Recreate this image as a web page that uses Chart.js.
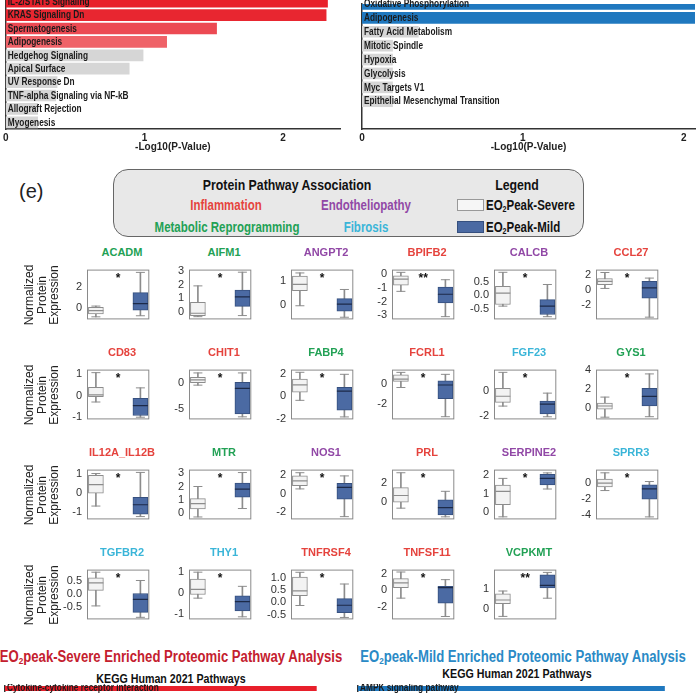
<!DOCTYPE html>
<html>
<head>
<meta charset="utf-8">
<script src="https://cdn.jsdelivr.net/npm/chart.js@4.4.1/dist/chart.umd.min.js"></script>
<style>
  body { margin: 0; width: 700px; height: 700px; overflow: hidden; position: relative; background: #fff;
         font-family: "Liberation Sans", Arial, sans-serif; color: #222; }
  canvas { position: absolute; }
  .c { position: absolute; white-space: nowrap; font-weight: bold; transform: translate(-50%, -50%) scaleX(.82); }
  .l { position: absolute; white-space: nowrap; font-weight: bold; transform-origin: 0 50%; transform: translateY(-50%) scaleX(.82); }
  .gt { position: absolute; white-space: nowrap; font-weight: bold; font-size: 11px; transform: translate(-50%, -50%); }
  .ylab { position: absolute; width: 80px; text-align: center; font-size: 12px; line-height: 12.5px;
          transform: translate(-50%, -50%) rotate(-90deg); }
  sub { font-size: 62%; vertical-align: -2px; line-height: 0; }
  #legendBox { position: absolute; left: 113px; top: 169px; width: 471px; height: 68px; background: #e8e8e8;
               border: 1px solid #666; border-radius: 15px; box-sizing: border-box; }
  .sw { position: absolute; width: 27px; height: 12px; box-sizing: border-box; }
</style>
</head>
<body>

<div style="position:absolute;left:19px;top:180px;font-size:20px;">(e)</div>

<div id="legendBox"></div>
<div class="c" style="left:287px;top:184px;font-size:15px;color:#111">Protein Pathway Association</div>
<div class="c" style="left:517px;top:184px;font-size:15px;color:#111">Legend</div>
<div class="sw" style="left:457px;top:199px;background:#f6f6f6;border:1px solid #999"></div>
<div class="sw" style="left:457px;top:221px;background:#4b6aa3;border:1px solid #36507f"></div>
<div class="l" style="left:486px;top:205px;font-size:14px;color:#111">EO<sub>2</sub>Peak-Severe</div>
<div class="l" style="left:486px;top:227px;font-size:14px;color:#111">EO<sub>2</sub>Peak-Mild</div>

<div class="c" style="left:171px;top:657px;font-size:16px;color:#c4202e">EO<sub>2</sub>peak-Severe Enriched Proteomic Pathway Analysis</div>
<div class="c" style="left:523px;top:657px;font-size:16px;color:#2a8ac6">EO<sub>2</sub>peak-Mild Enriched Proteomic Pathway Analysis</div>
<div class="c" style="left:171px;top:678px;font-size:13px;color:#111">KEGG Human 2021 Pathways</div>
<div class="c" style="left:517px;top:673px;font-size:13px;color:#111">KEGG Human 2021 Pathways</div>

<script>
Chart.defaults.font.family = '"Liberation Sans", Arial, sans-serif';
Chart.defaults.color = "#333";

// ─── Data ─────────────────────────────────────────────────────

// MSigDB Hallmark enrichment (top panels, -log10 p)
const severeHallmark = ["IL-2/STAT5 Signaling", "KRAS Signaling Dn", "Spermatogenesis", "Adipogenesis",
  "Hedgehog Signaling", "Apical Surface", "UV Response Dn", "TNF-alpha Signaling via NF-kB",
  "Allograft Rejection", "Myogenesis"];
const severeHallmarkP = [2.32, 2.31, 1.52, 1.16, 0.99, 0.89, 0.37, 0.36, 0.23, 0.23];

const mildHallmark = ["Oxidative Phosphorylation", "Adipogenesis", "Fatty Acid Metabolism", "Mitotic Spindle",
  "Hypoxia", "Glycolysis", "Myc Targets V1", "Epithelial Mesenchymal Transition", "", ""];
const mildHallmarkP = [2.1, 2.1, 0.35, 0.19, 0.19, 0.19, 0.19, 0.19, null, null];

const pValueTicks = [0, 1, 2];

// KEGG (bottom panels, first row only visible)
const severeKegg = ["Cytokine-cytokine receptor interaction", ""];
const severeKeggP = [2.24, null];
const mildKegg = ["AMPK signaling pathway", ""];
const mildKeggP = [1.91, null];

// Protein pathway groups
const pathways = ["Inflammation", "Endotheliopathy", "Metabolic Reprogramming", "Fibrosis"];
const pathwayColors = ["#e5433d", "#9148a6", "#22a155", "#3ab5d8"];

// Box plots: [min, q1, median, q3, max]
const proteins = ["ACADM", "AIFM1", "ANGPT2", "BPIFB2", "CALCB", "CCL27",
  "CD83", "CHIT1", "FABP4", "FCRL1", "FGF23", "GYS1",
  "IL12A_IL12B", "MTR", "NOS1", "PRL", "SERPINE2", "SPRR3",
  "TGFBR2", "THY1", "TNFRSF4", "TNFSF11", "VCPKMT"];
const proteinPathway = [2, 2, 1, 0, 1, 0,
  0, 0, 2, 0, 3, 2,
  0, 2, 1, 0, 1, 3,
  3, 3, 0, 0, 2];
const significance = ["*", "*", "*", "**", "*", "*",
  "*", "*", "*", "*", "*", "*",
  "*", "*", "*", "*", "*", "*",
  "*", "*", "*", "*", "**"];
const severeStats = [
  [-0.78, -0.5, -0.2, 0.1, 0.22], [-0.35, -0.28, -0.1, 0.7, 1.9], [-0.02, 0.61, 0.87, 1.22, 1.35],
  [-1.25, -0.79, -0.36, -0.12, 0.14], [-0.41, -0.35, 0.07, 0.32, 0.84], [0.16, 0.66, 1.1, 1.5, 2.3],
  [-0.3, -0.06, 0.03, 0.37, 1.05], [-0.33, 0.14, 0.7, 1.2, 2.05], [-0.37, 0.35, 1.0, 1.52, 2.13],
  [-0.37, 0.25, 0.47, 0.91, 1.16], [-1.18, -0.88, -0.39, 0.25, 1.53], [-0.92, -0.07, 0.25, 0.55, 1.18],
  [-0.69, -0.01, 0.45, 0.95, 1.04], [-0.27, 0.33, 0.73, 1.1, 2.0], [0.53, 0.88, 1.41, 1.95, 2.3],
  [-0.69, -0.05, 0.64, 1.46, 3.03], [-0.27, 0.4, 1.12, 1.47, 1.83], [-1.0, -0.55, -0.09, 0.42, 1.2],
  [-0.46, 0.14, 0.43, 0.62, 0.84], [-0.24, -0.07, 0.17, 0.65, 0.97], [-0.13, 0.27, 0.47, 1.03, 1.23],
  [-0.97, 0.29, 0.88, 1.38, 2.18], [-0.37, 0.27, 0.45, 0.76, 0.9]];
const mildStats = [
  [-0.68, -0.16, 0.45, 1.48, 3.36], [-0.27, 0.4, 1.1, 1.6, 2.9], [-0.5, -0.25, 0.05, 0.28, 0.66],
  [-3.1, -2.09, -1.46, -0.93, -0.4], [-0.8, -0.72, -0.41, -0.17, 0.39], [-3.7, -1.15, 0.23, 1.1, 1.55],
  [-1.0, -0.92, -0.47, -0.13, 0.35], [-6.5, -5.95, -0.95, 0.24, 2.05], [-1.85, -1.25, 0.45, 0.8, 1.95],
  [-3.33, -1.5, -0.12, 0.3, 0.96], [-2.04, -1.8, -1.02, -0.78, -0.14], [-0.87, 0.25, 1.25, 2.1, 3.6],
  [-1.25, -1.12, -0.62, -0.23, 1.1], [0.36, 1.2, 1.8, 2.26, 3.04], [-2.5, -0.59, 0.7, 1.15, 1.95],
  [-1.6, -1.41, -0.64, 0.18, 1.08], [1.25, 1.47, 1.83, 2.05, 2.13], [-4.27, -2.06, -0.79, -0.3, 0.12],
  [-0.9, -0.71, -0.21, 0.02, 0.52], [-1.11, -0.83, -0.4, -0.13, 0.31], [-0.62, -0.42, -0.12, 0.15, 0.75],
  [-3.18, -1.56, 0.3, 0.45, 1.26], [0.54, 1.06, 1.18, 1.71, 1.83]];
// y axis extent [min, max] and tick labels per protein
const yRanges = [
  [-1.02, 3.62], [-0.55, 3.09], [-0.59, 1.49], [-3.3, 0.34], [-0.9, 0.94], [-4.0, 2.69],
  [-1.1, 1.19], [-7.0, 2.7], [-2.07, 2.37], [-3.6, 1.44], [-2.25, 1.75], [-1.15, 4.05],
  [-1.4, 1.25], [-0.45, 3.26], [-2.8, 2.64], [-1.87, 3.36], [-0.41, 2.31], [-4.58, 1.6],
  [-0.98, 0.94], [-1.23, 1.09], [-0.7, 1.34], [-3.53, 2.47], [-0.52, 1.97]];
const yTicks = [
  [0, 2], [0, 1, 2, 3], [0, 1], [-3, -2, -1, 0], [-0.5, 0, 0.5], [-2, 0, 2],
  [-1, 0, 1], [-5, 0], [-2, 0, 2], [-2, 0], [-2, 0], [0, 2, 4],
  [-1, 0, 1], [0, 1, 2, 3], [-2, 0, 2], [0, 2], [0, 1, 2], [-4, -2, 0],
  [-0.5, 0, 0.5], [-1, 0, 1], [-0.5, 0, 0.5, 1], [-2, 0, 2], [0, 1]];

// ─── Helpers ──────────────────────────────────────────────────

function addCanvas(left, top, w, h) {
  const c = document.createElement("canvas");
  c.width = w; c.height = h;
  c.style.left = left + "px"; c.style.top = top + "px";
  c.style.width = w + "px"; c.style.height = h + "px";
  document.body.appendChild(c);
  return c;
}

function addText(cls, html, left, top, color) {
  const d = document.createElement("div");
  d.className = cls;
  d.innerHTML = html;
  d.style.left = left + "px"; d.style.top = top + "px";
  if (color) d.style.color = color;
  document.body.appendChild(d);
  return d;
}

// labels written inside the horizontal bars (condensed)
const barLabels = {
  id: "barLabels",
  afterDatasetsDraw(chart) {
    const ctx = chart.ctx;
    const meta = chart.getDatasetMeta(0);
    ctx.save();
    ctx.font = 'bold 10px "Liberation Sans", Arial, sans-serif';
    ctx.fillStyle = "#1a1a1a";
    ctx.textBaseline = "middle";
    meta.data.forEach((bar, i) => {
      const txt = chart.data.labels[i];
      if (!txt) return;
      ctx.save();
      ctx.translate(chart.chartArea.left + 2, bar.y + 0.5);
      ctx.scale(0.83, 1);
      ctx.fillText(txt, 0, 0);
      ctx.restore();
    });
    ctx.restore();
  },
};

function hbarChart(canvas, labels, values, colors, cfg) {
  return new Chart(canvas, {
    type: "bar",
    data: {
      labels: labels,
      datasets: [{ data: values, backgroundColor: colors, barThickness: 11, borderWidth: 0 }],
    },
    options: {
      indexAxis: "y",
      responsive: false,
      animation: false,
      events: [],
      layout: { padding: { top: cfg.padTop, left: cfg.padLeft, right: cfg.padRight, bottom: 0 } },
      plugins: { legend: { display: false }, tooltip: { enabled: false } },
      scales: {
        x: {
          display: cfg.showX,
          min: 0,
          max: cfg.max,
          afterBuildTicks: (s) => { s.ticks = pValueTicks.map((v) => ({ value: v })); },
          ticks: { color: "#222", font: { weight: "bold", size: 10 }, padding: 3, maxRotation: 0 },
          grid: { display: false, drawTicks: false },
          border: { color: "#333", width: 1.5 },
          title: { display: true, text: "-Log10(P-Value)", color: "#222",
                   font: { weight: "bold", size: 10 }, padding: { top: 0, bottom: 6 } },
          afterFit: (s) => { s.height = 30; },
        },
        y: {
          offset: cfg.offset,
          ticks: { display: false },
          grid: { display: false, drawTicks: false },
          border: { color: "#333", width: 1.5 },
          afterFit: (s) => { s.width = 0; },
        },
      },
    },
    plugins: [barLabels],
  });
}

// ─── Hallmark bar charts (top) ────────────────────────────────

const redShades = ["#e8202b", "#e82630", "#ec4a53", "#ef6268"];
hbarChart(addCanvas(0, -20, 345, 179), severeHallmark, severeHallmarkP,
  severeHallmarkP.map((v, i) => redShades[i] || "#d6d6d6"),
  { padTop: 15, padLeft: 5, padRight: 5, max: 2.41, offset: true, showX: true });

hbarChart(addCanvas(355, -20, 345, 179), mildHallmark, mildHallmarkP,
  mildHallmarkP.map((v, i) => (i < 2 ? "#1f78bf" : "#d6d6d6")),
  { padTop: 24, padLeft: 7, padRight: 5, max: 2.07, offset: false, showX: true });

// ─── KEGG bar charts (bottom, cut off by the page) ────────────

hbarChart(addCanvas(0, 684, 345, 37), severeKegg, severeKeggP, ["#e8202b", "#d6d6d6"],
  { padTop: 2, padLeft: 5, padRight: 5, max: 2.41, offset: true, showX: false });
hbarChart(addCanvas(355, 684, 345, 37), mildKegg, mildKeggP, ["#1f78bf", "#d6d6d6"],
  { padTop: 2, padLeft: 3, padRight: 5, max: 2.1, offset: true, showX: false });

// ─── Pathway legend ───────────────────────────────────────────

const legendPos = [[226, 205], [366, 205], [227, 227], [366, 227]];
pathways.forEach((p, i) => {
  const d = addText("c", p, legendPos[i][0], legendPos[i][1], pathwayColors[i]);
  d.style.fontSize = "14px";
});

// ─── Box plots ────────────────────────────────────────────────

const boxFrame = {
  id: "boxFrame",
  afterDraw(chart, args, opts) {
    const { ctx, chartArea: a } = chart;
    ctx.save();
    ctx.strokeStyle = "#8a8a8a";
    ctx.lineWidth = 1;
    ctx.strokeRect(a.left + 0.5, a.top + 0.5, a.right - a.left - 1, a.bottom - a.top - 1);
    ctx.fillStyle = "#111";
    ctx.font = "bold 12px Liberation Sans, Arial, sans-serif";
    ctx.textAlign = "center";
    ctx.textBaseline = "top";
    ctx.fillText(opts.stars, (a.left + a.right) / 2, a.top + 3);
    ctx.restore();
  },
};

const AXW = 40, PW = 70, PH = 67;
const greyLine = "#8c8c8c";

proteins.forEach((name, i) => {
  const col = i % 6, row = Math.floor(i / 6);
  const left = Math.round(87 + 101.8 * col);
  const top = 261 + 100 * row;
  const s = severeStats[i], m = mildStats[i];
  const [ymin, ymax] = yRanges[i];
  const ticks = yTicks[i];
  const decimals = ticks.some((v) => !Number.isInteger(v));

  addText("gt", name, left + PW / 2, top - 9, pathwayColors[proteinPathway[i]]);

  new Chart(addCanvas(left - AXW, top - 3, AXW + PW + 1, PH + 6), {
    type: "bar",
    data: {
      datasets: [
        { // medians
          type: "line", showLine: false, order: 0,
          data: [{ x: 0, y: s[2] }, { x: 1, y: m[2] }],
          pointStyle: "line", pointRadius: 7.5, pointBorderWidth: 1.2,
          pointBorderColor: [greyLine, "#1c2a48"],
        },
        { // whisker caps
          type: "line", showLine: false, order: 1,
          data: [{ x: 0, y: s[0] }, { x: 0, y: s[4] }, { x: 1, y: m[0] }, { x: 1, y: m[4] }],
          pointStyle: "line", pointRadius: 4.5, pointBorderWidth: 1, pointBorderColor: greyLine,
        },
        { // boxes
          order: 2, grouped: false, barThickness: 15, borderWidth: 1, borderSkipped: false,
          data: [{ x: 0, y: [s[1], s[3]] }, { x: 1, y: [m[1], m[3]] }],
          backgroundColor: ["#f3f3f3", "#4b6aa3"],
          borderColor: [greyLine, "#36507f"],
        },
        { // whiskers
          order: 3, grouped: false, barThickness: 1, borderWidth: 0,
          data: [{ x: 0, y: [s[0], s[4]] }, { x: 1, y: [m[0], m[4]] }],
          backgroundColor: greyLine,
        },
      ],
    },
    options: {
      responsive: false,
      animation: false,
      events: [],
      layout: { padding: { top: 3, bottom: 3, left: 0, right: 1 } },
      plugins: { legend: { display: false }, tooltip: { enabled: false }, boxFrame: { stars: significance[i] } },
      scales: {
        x: { type: "linear", min: -0.2, max: 1.2, offset: false, display: false },
        y: {
          min: ymin, max: ymax,
          afterBuildTicks: (sc) => { sc.ticks = ticks.map((v) => ({ value: v })); },
          ticks: {
            padding: 5, color: "#333", font: { size: 11 },
            callback: (v) => (decimals ? v.toFixed(1) : String(v)),
          },
          grid: { display: false, drawTicks: false },
          border: { display: false },
          afterFit: (sc) => { sc.width = AXW; },
        },
      },
    },
    plugins: [boxFrame],
  });

  if (col === 0) {
    addText("ylab", "Normalized<br>Protein<br>Expression", 42, top + PH / 2);
  }
});
</script>
</body>
</html>
